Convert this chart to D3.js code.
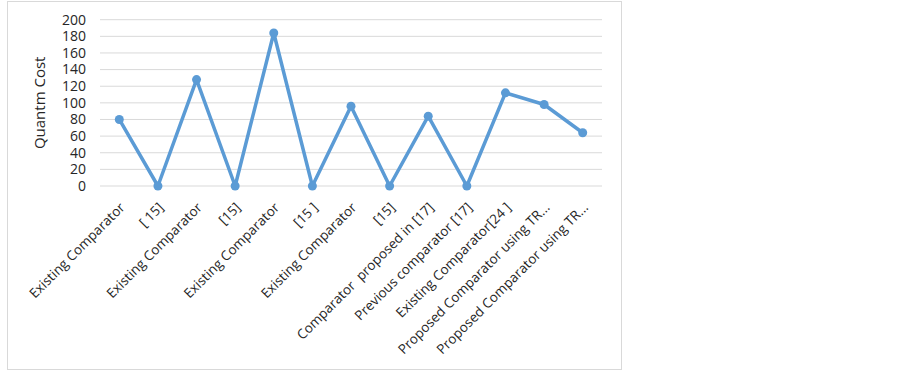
<!DOCTYPE html>
<html>
<head>
<meta charset="utf-8">
<script src="https://cdn.jsdelivr.net/npm/d3@7"></script>
<style>
  body { margin: 0; background: #fff; }
  svg { display: block; font-family: "Open Sans", sans-serif; }
</style>
</head>
<body>
<svg id="chart" width="903" height="375"></svg>
<script>
// categories along the x axis
const categories = [
    "Existing Comparator", "[ 15]", "Existing Comparator", "[15]",
    "Existing Comparator", "[15 ]", "Existing Comparator", "[15]",
    "Comparator  proposed in [17]", "Previous comparator [17]",
    "Existing Comparator[24 ]", "Proposed Comparator using TR...",
    "Proposed Comparator using TR..."
];
// quantum cost values
const costs = [80, 0, 128, 0, 184, 0, 96, 0, 84, 0, 112, 98, 64];
const yTicks = [0, 20, 40, 60, 80, 100, 120, 140, 160, 180, 200];

const svg = d3.select("#chart");

// chart area border
svg.append("rect")
    .attr("x", 7.5).attr("y", 1.5)
    .attr("width", 614).attr("height", 368)
    .attr("fill", "none")
    .attr("stroke", "#d9d9d9");

const plotLeft = 100, plotRight = 602, plotTop = 19.7, plotBottom = 186;

const x = d3.scaleBand().domain(d3.range(categories.length)).range([plotLeft, plotRight]);
const y = d3.scaleLinear().domain([0, 200]).range([plotBottom, plotTop]);

// gridlines
svg.append("g")
    .selectAll("line")
    .data(yTicks)
    .join("line")
    .attr("x1", plotLeft).attr("x2", plotRight)
    .attr("y1", d => y(d)).attr("y2", d => y(d))
    .attr("stroke", "#d9d9d9")
    .attr("stroke-width", 1);

// y tick labels
svg.append("g")
    .selectAll("text")
    .data(yTicks)
    .join("text")
    .attr("x", 86)
    .attr("y", d => y(d))
    .attr("dy", "0.35em")
    .attr("text-anchor", "end")
    .attr("font-size", 14)
    .attr("fill", "#262626")
    .text(d => d);

// y axis title
svg.append("text")
    .attr("transform", "translate(45," + ((plotTop + plotBottom) / 2) + ") rotate(-90)")
    .attr("text-anchor", "middle")
    .attr("font-size", 15)
    .attr("fill", "#262626")
    .text("Quantm Cost");

// x labels, rotated
const cx = i => x(i) + x.bandwidth() / 2;
svg.append("g")
    .selectAll("text")
    .data(categories)
    .join("text")
    .attr("transform", (d, i) => "translate(" + (cx(i) + 3) + "," + (plotBottom + 19) + ") rotate(-45)")
    .attr("text-anchor", "end")
    .attr("dy", "0.35em")
    .attr("font-size", 13.5)
    .attr("fill", "#262626")
    .style("white-space", "pre")
    .text(d => d);

// line
const line = d3.line()
    .x((d, i) => cx(i))
    .y(d => y(d));

svg.append("path")
    .datum(costs)
    .attr("d", line)
    .attr("fill", "none")
    .attr("stroke", "#5b9bd5")
    .attr("stroke-width", 3.5)
    .attr("stroke-linejoin", "round");

svg.append("g")
    .selectAll("circle")
    .data(costs)
    .join("circle")
    .attr("cx", (d, i) => cx(i))
    .attr("cy", d => y(d))
    .attr("r", 4.5)
    .attr("fill", "#5b9bd5");
</script>
</body>
</html>
